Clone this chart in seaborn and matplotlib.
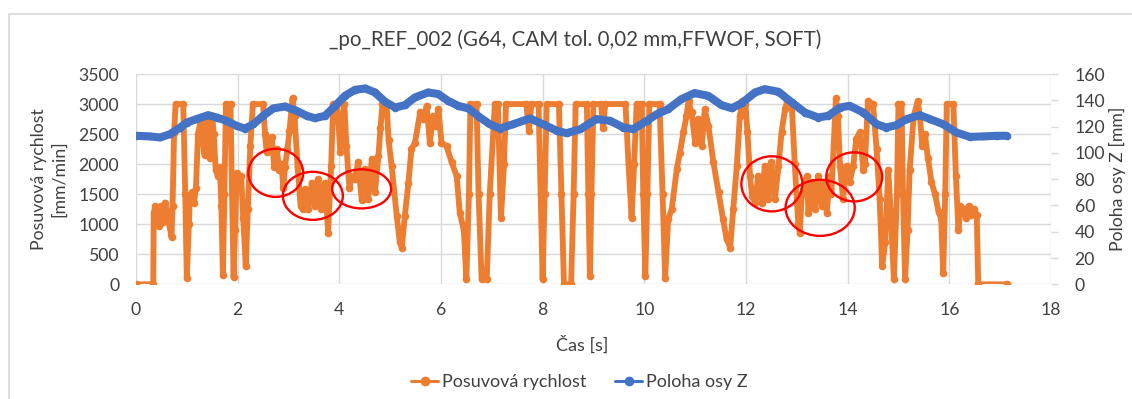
import matplotlib
matplotlib.use("Agg")
import matplotlib.pyplot as plt
from matplotlib.patches import Ellipse, Rectangle
from matplotlib.lines import Line2D
import seaborn as sns
import pandas as pd

# ---------------- data ----------------
feed_t = [0.00, 0.34, 0.35, 0.38, 0.42, 0.45, 0.49, 0.53, 0.57, 0.62, 0.66, 0.70, 0.72, 0.75,
          0.78, 0.93, 0.97, 1.00, 1.04, 1.06, 1.10, 1.14, 1.18, 1.22, 1.27, 1.31, 1.35, 1.40,
          1.43, 1.46, 1.50, 1.53, 1.57, 1.61, 1.65, 1.68, 1.71, 1.74, 1.77, 1.86, 1.89, 1.92,
          1.95, 1.98, 2.02, 2.07, 2.11, 2.16, 2.20, 2.25, 2.30, 2.50, 2.54, 2.57, 2.62, 2.67,
          2.72, 2.77, 2.82, 2.86, 2.90, 2.93, 2.98, 3.02, 3.08, 3.12, 3.18, 3.24, 3.29, 3.33,
          3.39, 3.46, 3.52, 3.59, 3.65, 3.72, 3.78, 3.84, 3.88, 3.96, 4.02, 4.10, 4.14, 4.20,
          4.25, 4.31, 4.37, 4.44, 4.50, 4.57, 4.64, 4.70, 4.77, 4.81, 4.85, 4.93, 4.97, 5.03,
          5.13, 5.19, 5.23, 5.29, 5.36, 5.42, 5.49, 5.59, 5.65, 5.72, 5.78, 5.85, 5.91, 5.95,
          6.01, 6.11, 6.21, 6.31, 6.37, 6.45, 6.50, 6.55, 6.58, 6.70, 6.74, 6.80, 6.90, 6.96,
          7.06, 7.12, 7.18, 7.24, 7.28, 7.68, 7.73, 7.78, 7.92, 7.96, 8.00, 8.04, 8.08, 8.32,
          8.37, 8.42, 8.56, 8.61, 8.65, 8.87, 8.90, 8.93, 8.96, 9.00, 9.15, 9.19, 9.23, 9.63,
          9.69, 9.75, 9.80, 9.85, 9.95, 9.98, 10.02, 10.06, 10.10, 10.30, 10.36, 10.41, 10.47,
          10.54, 10.64, 10.70, 10.77, 10.83, 10.87, 10.93, 11.00, 11.06, 11.13, 11.19, 11.26,
          11.36, 11.46, 11.55, 11.62, 11.69, 11.75, 11.82, 11.88, 11.93, 11.99, 12.03, 12.08,
          12.12, 12.18, 12.24, 12.31, 12.37, 12.44, 12.50, 12.57, 12.64, 12.70, 12.77, 12.81,
          12.90, 12.96, 13.03, 13.06, 13.10, 13.20, 13.23, 13.29, 13.36, 13.42, 13.49, 13.55,
          13.59, 13.65, 13.68, 13.77, 13.81, 13.85, 13.91, 13.98, 14.04, 14.11, 14.17, 14.24,
          14.31, 14.34, 14.40, 14.50, 14.57, 14.63, 14.68, 14.74, 14.80, 14.86, 14.91, 14.97,
          15.00, 15.06, 15.09, 15.13, 15.18, 15.22, 15.30, 15.38, 15.42, 15.47, 15.52, 15.58,
          15.65, 15.72, 15.79, 15.84, 15.88, 15.92, 15.95, 16.08, 16.13, 16.18, 16.22, 16.28,
          16.33, 16.38, 16.43, 16.49, 16.54, 16.57, 17.13]
feed_v = [0, 0, 1190, 1300, 1250, 970, 1300, 1030, 1360, 1190, 970, 780, 1300, 2520,
          3000, 3000, 1500, 100, 1000, 1420, 1530, 1350, 1600, 2500, 2700, 2400, 2150, 2750,
          2200, 2100, 2800, 2500, 1900, 1800, 1950, 1300, 150, 1500, 3000, 3000, 1500, 120,
          900, 1850, 1600, 1800, 1100, 300, 1250, 2300, 3000, 3000, 2500, 2200, 2350, 2450,
          1950, 2250, 1900, 2000, 1600, 1950, 2250, 2550, 3100, 2800, 1950, 1300, 1250, 1580,
          1250, 1690, 1300, 1750, 1250, 1690, 860, 1970, 3000, 3000, 2200, 3000, 2300, 1600,
          1800, 1750, 2030, 1410, 1920, 1420, 2080, 1530, 2130, 2600, 3000, 3000, 2400, 1970,
          1140, 700, 610, 1140, 1690, 2250, 2360, 2860, 2750, 2970, 2360, 2800, 2640, 2920,
          2360, 2300, 2030, 1800, 1190, 900, 80, 1500, 3000, 3000, 1500, 80, 80, 1500,
          3000, 3000, 1100, 2000, 3000, 3000, 2550, 3000, 3000, 1500, 80, 1500, 3000, 3000,
          1500, 0, 0, 1500, 3000, 3000, 1500, 130, 1500, 3000, 3000, 2600, 3000, 3000,
          2000, 1100, 2000, 3000, 3000, 1500, 130, 1500, 3000, 3000, 1500, 110, 1080,
          1250, 1920, 2190, 2530, 2800, 3050, 2860, 2360, 2750, 2300, 2910, 2640,
          2030, 1530, 1080, 750, 610, 1250, 1970, 2800, 3050, 3000, 2530, 1800,
          1470, 1360, 1800, 1360, 1970, 1420, 2030, 1420, 1970, 2530, 2920, 3050,
          3000, 2000, 1000, 860, 1500, 1800, 1190, 1700, 1250, 1800, 1300, 1700,
          1190, 1800, 1500, 3100, 2800, 1970, 1420, 1970, 1700, 1970, 2420, 2530,
          1900, 2000, 3050, 3000, 2250, 1420, 300, 700, 1900, 1000, 80, 1500,
          3000, 3000, 1500, 80, 900, 1900, 2800, 3050, 2800, 2300, 2500, 2100,
          1700, 1500, 1200, 1100, 180, 1500, 3000, 3000, 1800, 900, 1300, 1250,
          1100, 1300, 1150, 1250, 1150, 0, 0]

z_t = [0.00, 0.28, 0.47, 0.67, 0.87, 1.00, 1.19, 1.42, 1.59, 1.78, 1.98, 2.14, 2.31, 2.50,
       2.70, 2.93, 3.16, 3.36, 3.52, 3.72, 3.92, 4.11, 4.31, 4.51, 4.70, 4.90, 5.10, 5.29,
       5.49, 5.75, 5.95, 6.14, 6.34, 6.54, 6.75, 6.96, 7.16, 7.42, 7.75, 8.01, 8.28, 8.47,
       8.74, 9.06, 9.33, 9.59, 9.78, 10.05, 10.25, 10.47, 10.73, 10.99, 11.26, 11.52, 11.72,
       11.92, 12.18, 12.37, 12.64, 12.90, 13.16, 13.42, 13.62, 13.85, 14.04, 14.31, 14.57,
       14.76, 14.96, 15.16, 15.42, 15.62, 15.88, 16.14, 16.40, 16.67, 16.93, 17.13]
z_v = [113.0, 112.5, 111.7, 114.2, 119.3, 123.1, 125.7, 128.7, 126.9, 124.4, 120.6, 118.5,
       121.8, 128.2, 133.8, 135.3, 132.0, 128.2, 126.4, 128.2, 135.8, 143.4, 148.0, 149.0,
       146.0, 138.9, 134.5, 136.3, 142.2, 146.0, 144.7, 139.6, 135.8, 133.8, 127.5, 121.8,
       118.5, 121.8, 126.2, 121.8, 116.8, 115.0, 118.0, 125.7, 124.4, 119.3, 118.0, 124.4,
       129.5, 133.3, 140.9, 145.5, 143.4, 136.3, 134.0, 137.9, 146.0, 148.5, 146.5, 138.4,
       130.7, 126.9, 128.2, 134.5, 135.8, 130.7, 121.8, 119.3, 121.1, 125.7, 128.7, 125.7,
       121.8, 115.5, 112.2, 112.5, 113.0, 113.0]

# red highlight ellipses (annotations): centre time, centre feed, width [s], height [mm/min]
ell_t = [2.75, 3.48, 4.44, 12.51, 13.46, 14.13]
ell_v = [1855, 1472, 1588, 1672, 1272, 1788]
ell_w = [1.08, 1.18, 1.16, 1.20, 1.36, 1.10]
ell_h = [800, 800, 650, 917, 933, 817]

title = "_po_REF_002 (G64, CAM tol. 0,02 mm,FFWOF, SOFT)"
name_feed = "Posuvová rychlost"
name_z = "Poloha osy Z"
x_ticks = list(range(0, 20, 2))
left_ticks = list(range(0, 3501, 500))
right_ticks = list(range(0, 161, 20))

# ---------------- style ----------------
sns.set_theme(style="white")
plt.rcParams["font.family"] = ["Lato", "DejaVu Sans"]
TXT = "#404040"
ORANGE = "#ED7D31"
BLUE = "#4472C4"
GRID = "#D9D9D9"

fig = plt.figure(figsize=(11.32, 3.99), dpi=100)
ax = fig.add_axes([0.1201, 0.2875, 0.8083, 0.527])
ax2 = ax.twinx()

df_feed = pd.DataFrame({"t": feed_t, "v": feed_v})
df_z = pd.DataFrame({"t": z_t, "z": z_v})

sns.lineplot(data=df_feed, x="t", y="v", ax=ax, color=ORANGE, linewidth=4.2,
             marker="o", markersize=5.5, markeredgewidth=0, sort=False, estimator=None)
sns.lineplot(data=df_z, x="t", y="z", ax=ax2, color=BLUE, linewidth=5.8,
             marker="o", markersize=5.5, markeredgewidth=0, sort=False, estimator=None)

ax.set_xlim(0, 18)
ax.set_ylim(0, 3500)
ax2.set_ylim(0, 160)
ax.set_xticks(x_ticks)
ax.set_yticks(left_ticks)
ax2.set_yticks(right_ticks)
ax.set_xlabel("")
ax.set_ylabel("")
ax2.set_ylabel("")

ax.grid(True, color=GRID, linewidth=1)
ax2.grid(False)
for a in (ax, ax2):
    for s in a.spines.values():
        s.set_visible(False)
ax.set_axisbelow(True)

ax.tick_params(axis="both", length=0, labelsize=12.7, labelcolor=TXT, pad=12)
ax.tick_params(axis="x", pad=13)
ax2.tick_params(axis="y", length=5, color=GRID, width=1, labelsize=12.7, labelcolor=TXT, pad=12)

for cx, cy, w, h in zip(ell_t, ell_v, ell_w, ell_h):
    e = Ellipse((cx, cy), w, h, transform=ax.transData, fill=False,
                edgecolor="#FF0000", linewidth=1.7, zorder=10)
    ax2.add_patch(e)

# texts
fig.text(0.5084, 0.900, title, ha="center", va="center", fontsize=14.8, color=TXT)
fig.text(0.514, 0.135, "Čas [s]", ha="center", va="center", fontsize=13, color=TXT)
fig.text(0.0435, 0.5514, name_feed + "\n[mm/min]", ha="center", va="center",
         rotation=90, fontsize=12.7, color=TXT, multialignment="center", linespacing=1.35)
fig.text(0.9876, 0.5514, "Poloha osy Z [mm]", ha="center", va="center",
         rotation=90, fontsize=12.7, color=TXT)

handles = [Line2D([0], [0], color=ORANGE, lw=2.2, marker="o", markersize=6),
           Line2D([0], [0], color=BLUE, lw=2.2, marker="o", markersize=6)]
fig.legend(handles, [name_feed, name_z], loc="center", bbox_to_anchor=(0.512, 0.043),
           ncol=2, frameon=False, fontsize=13, labelcolor=TXT, handlelength=1.5,
           handletextpad=0.2, columnspacing=1.6)

# outer chart border (cropped at right/bottom as in reference)
fig.add_artist(Rectangle((9 / 1132, -0.1), 1.2, 1 - 14 / 399 + 0.1, transform=fig.transFigure,
                         fill=False, edgecolor=GRID, linewidth=1.2))

fig.savefig("out.png", dpi=100)
